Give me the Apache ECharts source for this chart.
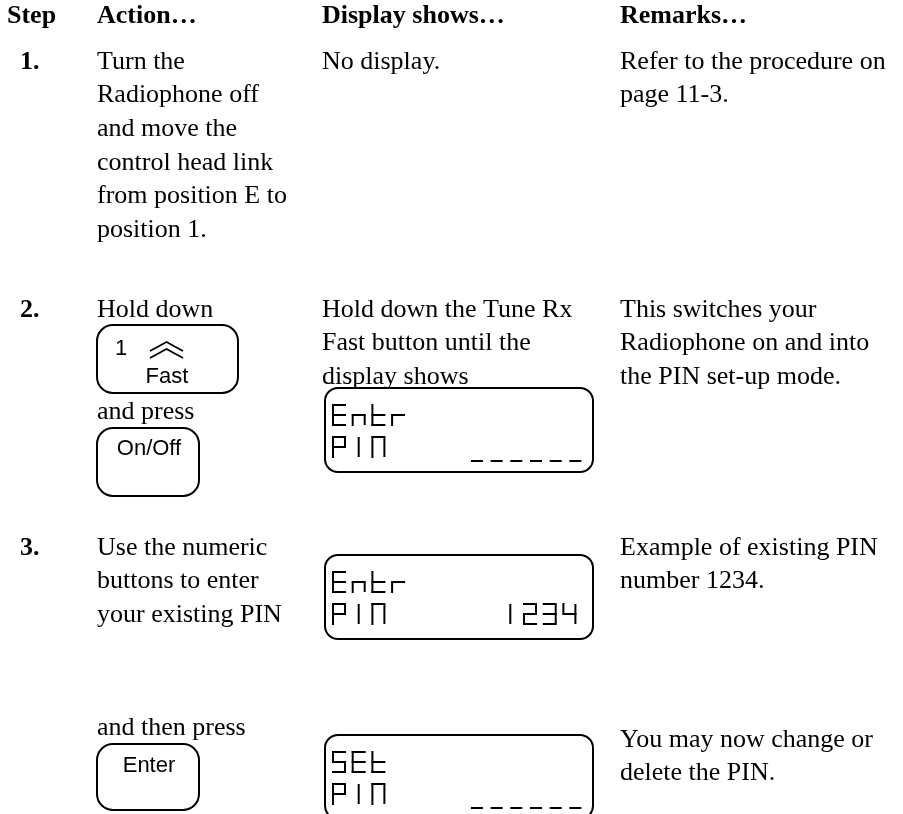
<!DOCTYPE html>
<html><head><meta charset="utf-8">
<script src="https://cdn.jsdelivr.net/npm/echarts@6/dist/echarts.min.js"></script>
<style>html,body{margin:0;padding:0;background:#fff}#c{width:903px;height:814px}</style>
</head><body><div id="c"></div>
<script>
// ---- content ----
const headers = ['Step', 'Action\u2026', 'Display shows\u2026', 'Remarks\u2026'];
const stepLabels = ['1.', '2.', '3.'];
const step1Action = ['Turn the', 'Radiophone off', 'and move the', 'control head link', 'from position E to', 'position 1.'];
const step1Display = ['No display.'];
const step1Remarks = ['Refer to the procedure on', 'page 11-3.'];
const step2ActionA = ['Hold down'];
const step2ActionB = ['and press'];
const step2Display = ['Hold down the Tune Rx', 'Fast button until the', 'display shows'];
const step2Remarks = ['This switches your', 'Radiophone on and into', 'the PIN set-up mode.'];
const step3Action = ['Use the numeric', 'buttons to enter', 'your existing PIN'];
const step3Remarks = ['Example of existing PIN', 'number 1234.'];
const step4Action = ['and then press'];
const step4Remarks = ['You may now change or', 'delete the PIN.'];
const buttonLabels = ['1', 'Fast', 'On/Off', 'Enter'];
const lcdScreens = [['Entr', 'PIN    ______'], ['Entr', 'PIN      1234'], ['SEt', 'PIN    ______']];

// ---- layout ----
const SERIF = '"Liberation Serif","Times New Roman",serif';
const SANS = '"Liberation Sans",Arial,sans-serif';
const BODY = '26px ' + SERIF;
const BOLD = 'bold 26px ' + SERIF;
const BTN = '22px ' + SANS;
const LH = 33.6;
const colX = [20, 97, 322, 620];
const headerX = [7, 97, 322, 620];
const INK = '#000';
const DIGIT_SHIFT = -6;

const els = [];
function txt(s, x, y, font, align) {
  els.push({type: 'text', x: x, y: y, silent: true,
    style: {text: s, font: font, fill: INK, align: align || 'left', verticalAlign: 'middle'}});
}
function block(lines, x, y) { lines.forEach((l, i) => txt(l, x, y + i * LH, BODY)); }
function rrect(x, y, w, h, r, lw) {
  els.push({type: 'rect', silent: true, shape: {x: x, y: y, width: w, height: h, r: r},
    style: {fill: 'none', stroke: INK, lineWidth: lw || 2}});
}
function seg(x1, y1, x2, y2, lw) {
  els.push({type: 'line', silent: true, shape: {x1: x1, y1: y1, x2: x2, y2: y2},
    style: {stroke: INK, lineWidth: lw || 2, lineCap: 'butt'}});
}
function poly(pts, lw) {
  els.push({type: 'polyline', silent: true, shape: {points: pts},
    style: {stroke: INK, lineWidth: lw || 1.8, fill: null}});
}

// segment glyphs
const GLYPH = {
  'E': 'afegd', 'n': 'gec', 't': 'fegd', 'r': 'ge', 'P': 'abgfe', 'I': 'i', 'N': 'abcfe',
  'S': 'afgcd', '1': 'i', '2': 'abged', '3': 'abgcd', '4': 'fgbc', '_': 'u', ' ': ''
};
const GW = 12, GH = 20, PITCH = 19.7;
function glyph(ch, cx, cy) {
  const m = cy + GH / 2, r = cx + GW, b = cy + GH;
  (GLYPH[ch] || '').split('').forEach(s => {
    if (s === 'a') seg(cx - 1, cy, r + 1, cy);
    if (s === 'b') seg(r, cy, r, m);
    if (s === 'c') seg(r, m, r, b);
    if (s === 'd') seg(cx - 1, b, r + 1, b);
    if (s === 'e') seg(cx, m, cx, b + 1);
    if (s === 'f') seg(cx, cy - 1, cx, m);
    if (s === 'g') seg(cx - 1, m, r + 1, m);
    if (s === 'i') seg(cx + GW / 2, cy, cx + GW / 2, b);
    if (s === 'u') seg(cx, b + 4, r, b + 4);
  });
}
function lcd(rows, top) {
  rrect(325, top, 268, 84, 13, 2);
  rows.forEach((row, ri) => {
    const cy = top + 17 + ri * 32;
    row.split('').forEach((ch, k) => {
      const dx = /[0-9]/.test(ch) ? DIGIT_SHIFT : 0;
      glyph(ch, 333 + k * PITCH + dx, cy);
    });
  });
}

// header
headers.forEach((h, i) => txt(h, headerX[i], 16, BOLD));

// step 1
txt(stepLabels[0], colX[0], 62, BOLD);
block(step1Action, colX[1], 62);
block(step1Display, colX[2], 62);
block(step1Remarks, colX[3], 62);

// step 2
txt(stepLabels[1], colX[0], 310, BOLD);
block(step2ActionA, colX[1], 310);
rrect(97, 325, 141, 68, 16, 2);
txt(buttonLabels[0], 121, 349, BTN, 'center');
poly([[150, 351], [166.5, 342], [183, 351]]);
poly([[150, 358], [166.5, 349], [183, 358]]);
txt(buttonLabels[1], 167, 377, BTN, 'center');
block(step2ActionB, colX[1], 412);
rrect(97, 428, 102, 68, 16, 2);
txt(buttonLabels[2], 149, 449, BTN, 'center');
block(step2Display, colX[2], 310);
lcd(lcdScreens[0], 388);
block(step2Remarks, colX[3], 310);

// step 3
txt(stepLabels[2], colX[0], 548, BOLD);
block(step3Action, colX[1], 548);
lcd(lcdScreens[1], 555);
block(step3Remarks, colX[3], 548);

// step 4
block(step4Action, colX[1], 728);
rrect(97, 744, 102, 66, 16, 2);
txt(buttonLabels[3], 149, 766, BTN, 'center');
lcd(lcdScreens[2], 735);
block(step4Remarks, colX[3], 740);

const chart = echarts.init(document.getElementById('c'), null, {renderer: 'canvas'});
chart.setOption({backgroundColor: '#fff', animation: false, graphic: {elements: els}});
</script>
</body></html>
